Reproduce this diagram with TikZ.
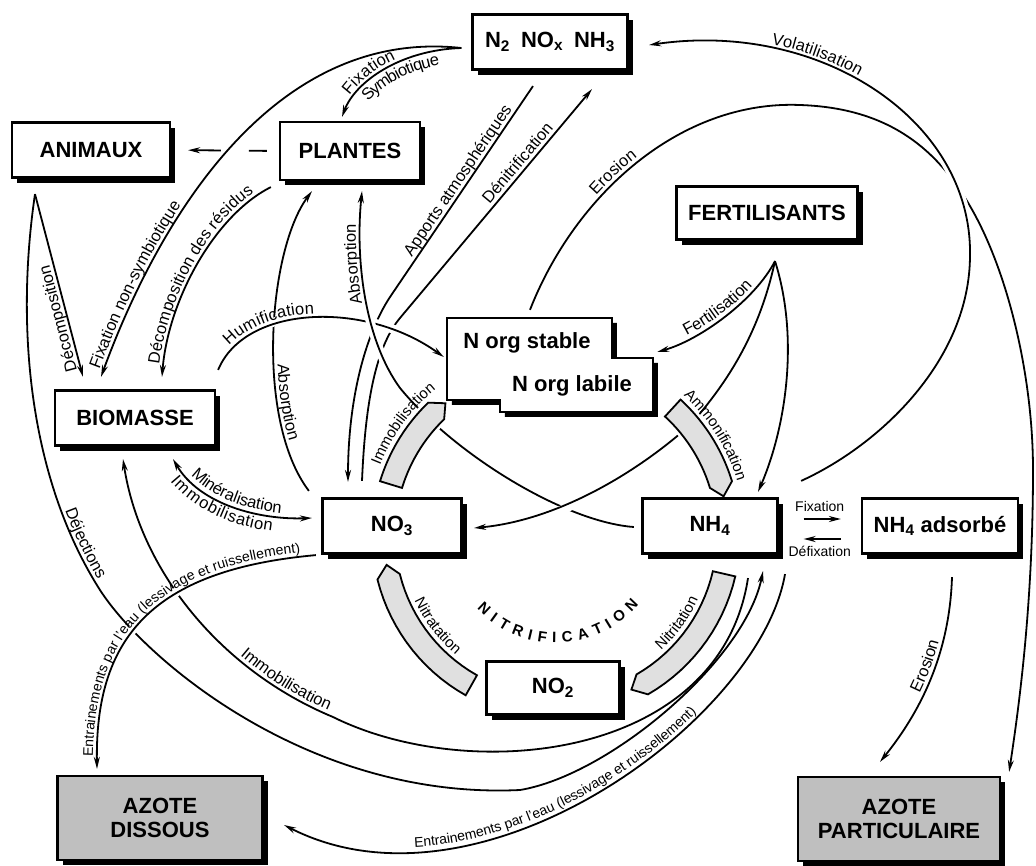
\documentclass[tikz,border=0pt]{standalone}
\usepackage{fontspec}
\setmainfont{Liberation Sans}
\usetikzlibrary{arrows.meta, shadows, decorations.text}

\pgfdeclarelayer{back}
\pgfsetlayers{back,main}

\newcommand\bxfont{\fontsize{22pt}{24pt}\selectfont\bfseries}
\newcommand\lbfont{\fontsize{16.5pt}{18pt}\selectfont}
\newcommand\bdfont{\fontsize{15pt}{17pt}\selectfont}
\newcommand\smfont{\fontsize{14pt}{16pt}\selectfont}
\newcommand\nitfont{\fontsize{15pt}{17pt}\selectfont\bfseries}

% shaded band of the cycle: #1 square end, #2 pointed end (angles)
\newcommand\band[2]{%
  \pgfmathsetmacro\tipang{(#2>#1) ? #2+4 : #2-4}%
  \draw[band] plot[domain=#1:#2, samples=16] ({556+184*cos(\x)},{535+184*sin(\x)})
    -- ({556+172*cos(\tipang)},{535+172*sin(\tipang)})
    -- plot[domain=#2:#1, samples=16] ({556+161*cos(\x)},{535+161*sin(\x)}) -- cycle;}

\begin{document}
\begin{tikzpicture}[
			x=1pt, y=-1pt,
			% GLOBAL CFG
			font=\lbfont,
			>={Stealth[length=12pt,width=6pt]},
			% Styles
			box/.style={% For the compartments
				rectangle,
				draw=black,
				line width=2.2pt,
				fill=white,
				font=\bxfont,
				minimum height=55pt,
				drop shadow={shadow xshift=5pt, shadow yshift=-5pt, fill=black, opacity=1},
			},
			sink/.style={% For the two final stocks
				box,
				fill=black!25,
				align=center,
				minimum height=84pt,
			},
			flow/.style={% For the fluxes
				line width=1.8pt,
			},
			over/.style={% Flux passing over another one
				preaction={draw=white, line width=9pt, arrows=-, shorten <=#1, shorten >=#1},
			},
			over/.default=8pt,
			band/.style={% For the transformations of the cycle
				draw=black,
				line width=1.8pt,
				fill=black!12,
				preaction={draw=white, line width=7pt},
			},
			lab/.style 2 args={% text on the left of a flux
				postaction={decorate, decoration={text along path,
					text={|\lbfont|#2}, text align={left indent=#1}, raise=4pt}},
			},
			labr/.style 2 args={% text on the right of a flux
				postaction={decorate, decoration={text along path,
					text={|\lbfont|#2}, text align={left indent=#1}, raise=-15pt}},
			},
			labs/.style 2 args={% smaller text for the water transfers
				postaction={decorate, decoration={text along path,
					text={|\smfont|#2}, text align={left indent=#1}, raise=4pt}},
			},
			labc/.style={% centred text
				postaction={decorate, decoration={text along path,
					text={|\lbfont|#1}, text align=center, raise=4pt}},
			},
			]
			\useasboundingbox (0,0) rectangle (1036,865);

			% Draw the compartments
			\node[box, minimum width=155pt] (gaz) at (550,42) {N\textsubscript{2}\enspace NO\textsubscript{x}\enspace NH\textsubscript{3}};
			\node[box, minimum width=158pt] (animaux) at (91,150) {ANIMAUX};
			\node[box, minimum width=140pt, minimum height=58pt] (plantes) at (350,151) {PLANTES};
			\node[box, minimum width=181pt, minimum height=53pt] (fert) at (767,213) {FERTILISANTS};
			\node[box, minimum width=160pt] (bio) at (135,418) {BIOMASSE};
			\node[box, minimum width=139pt] (no3) at (392,526) {NO\textsubscript{3}};
			\node[box, minimum width=135pt] (nh4) at (710,526) {NH\textsubscript{4}};
			\node[box, minimum width=156pt] (nh4a) at (940,526) {NH\textsubscript{4} adsorbé};
			\node[box, minimum width=133pt, minimum height=53pt] (no2) at (553,688) {NO\textsubscript{2}};
			\node[sink, minimum width=205pt] (diss) at (160,818) {AZOTE\\DISSOUS};
			\node[sink, minimum width=202pt] (part) at (899,819) {AZOTE\\PARTICULAIRE};

			% Organic nitrogen: two stepped boxes
			\node[minimum width=206pt, minimum height=94pt, inner sep=0pt] (norg) at (550,365) {};
			\fill[black] ([shift={(5,5)}]norg.north west) -- ++(165,0) -- ++(0,40) -- ++(41,0) -- ++(0,54) -- ++(-153,0) -- ++(0,-12) -- ++(-53,0) -- cycle;
			\draw[line width=2.2pt, fill=white] (norg.north west) -- ++(165,0) -- ++(0,40) -- ++(41,0) -- ++(0,54) -- ++(-153,0) -- ++(0,-12) -- ++(-53,0) -- cycle;
			\node[font=\bxfont] (stable) at (527,343) {N org stable};
			\node[font=\bxfont] (labile) at (572,386) {N org labile};

			\begin{pgfonlayer}{back}
			% Fixation
			\draw[flow, <-, lab={22pt}{Fixation}, labr={30pt}{Symbiotique}] ([shift={(-8,-4)}]plantes.north) .. controls (355,82) and (400,50) .. ([shift={(-10,6)}]gaz.west);
			\draw[flow, <-, lab={6pt}{Fixation non-symbiotique}] ([shift={(-34,-12.5)}]bio.north) .. controls (140,270) and (250,25) .. ([shift={(-10,6)}]gaz.west);

			% Decomposition and excretion
			\draw[flow, <-, lab={12pt}{Décomposition des résidus}] ([shift={(27,-12.5)}]bio.north) .. controls (168,300) and (215,215) .. ([shift={(-8,6)}]plantes.south west);
			\draw[flow, <-, lab={8pt}{Décomposition}] ([shift={(-52,-12.5)}]bio.north) -- ([shift={(-56,15.5)}]animaux.south);
			\draw[flow, ->, lab={322pt}{Déjections}] ([shift={(-56,15.5)}]animaux.south) .. controls (15,330) and (30,480) .. (100,590) .. controls (145,660) and (310,800) .. (520,790) .. controls (610,775) and (745,660) .. ([shift={(53,16.5)}]nh4.south);
			\draw[flow, ->, dash pattern=on 18pt off 28pt on 200pt, shorten <=12pt, shorten >=17pt] (plantes.west) -- (animaux.east);

			% Uptake, deposition, denitrification
			\draw[flow, <-, lab={180pt}{Absorption}] ([shift={(-38,10)}]plantes.south) .. controls (268,250) and (255,420) .. ([shift={(-12.5,-6.5)}]no3.north west);
			\draw[flow, <-, lab={237pt}{Apports atmosphériques}] ([shift={(-44,-15.5)}]no3.north) .. controls (348,400) and (365,335) .. (390,297) -- ([shift={(-17,15.5)}]gaz.south);
			\draw[flow, ->, lab={314pt}{Dénitrification}] ([shift={(-30,-16.5)}]no3.north) .. controls (365,410) and (374,349) .. (400,318) -- ([shift={(42,18.5)}]gaz.south);

			% Erosion
			\draw[flow, ->, lab={132pt}{Erosion}] ([shift={(-20,-8)}]norg.north) .. controls (575,195) and (680,100) .. (800,105) .. controls (890,108) and (940,150) .. (975,215) .. controls (1010,280) and (1033,380) .. (1033,470) .. controls (1033,600) and (1020,700) .. ([shift={(8,-4)}]part.north east);
			\draw[flow, <-, lab={80pt}{Erosion}] ([shift={(-19,-14)}]part.north) .. controls (930,700) and (950,640) .. ([shift={(12,22.5)}]nh4a.south);

			% Fertilisers
			\draw[flow, <-, labc={Fertilisation}] ([shift={(4,-13)}]norg.east) .. controls (700,340) and (755,300) .. ([shift={(8,20.5)}]fert.south);
			\draw[flow, ->] ([shift={(8,20.5)}]fert.south) .. controls (800,340) and (785,430) .. ([shift={(48,-5.5)}]nh4.north);

			% Biomass exchanges
			\draw[flow, <->, lab={25pt}{Minéralisation}, labr={15pt}{Immobilisation}] ([shift={(38,12.5)}]bio.south) .. controls (200,505) and (260,520) .. ([shift={(-9.5,-8)}]no3.west);
			\draw[flow, <-, lab={235pt}{Immobilisation}] ([shift={(-12,12.5)}]bio.south) .. controls (140,570) and (220,670) .. (333,717) .. controls (470,785) and (720,760) .. ([shift={(38,23.5)}]nh4.south);

			% Leaching
			\draw[flow, <-, labs={135pt}{Entrainements par l'eau (lessivage et ruissellement)}] ([shift={(20.5,7)}]diss.east) .. controls (480,925) and (760,720) .. ([shift={(75,19.5)}]nh4.south);

			% Fixation on the clay
			\draw[flow, ->, shorten <=25pt, shorten >=20pt] ([yshift=7pt]nh4.east) -- node[above=3pt, font=\smfont] {Fixation} ([yshift=7pt]nh4a.west);
			\draw[flow, ->, shorten <=20pt, shorten >=25pt] ([yshift=-13pt]nh4a.west) -- node[below=3pt, font=\smfont] {Défixation} ([yshift=-13pt]nh4.east);

			% Fluxes drawn over the others
			\draw[flow, ->, over, lab={25pt}{Humification}] ([shift={(2,-19.5)}]bio.north east) .. controls (245,305) and (365,300) .. ([shift={(-3,-8)}]norg.west);
			\draw[flow, ->, over, lab={370pt}{Absorption}] ([shift={(-7.5,1)}]nh4.west) .. controls (565,522) and (455,455) .. (400,388) .. controls (365,340) and (355,260) .. ([shift={(12,10)}]plantes.south);
			\draw[flow, ->, over=40pt] ([shift={(8,20.5)}]fert.south) .. controls (760,330) and (730,380) .. (690,425) .. controls (640,470) and (560,520) .. ([shift={(11.5,2)}]no3.east);
			\draw[flow, <-, over, lab={122pt}{Volatilisation}] ([shift={(20.5,3)}]gaz.east) .. controls (820,20) and (972,120) .. (970,255) .. controls (970,360) and (880,445) .. ([shift={(22.5,-16.5)}]nh4.north east);
			\draw[flow, <-, over, labs={12pt}{Entrainements par l'eau (lessivage et ruissellement)}] ([shift={(-63,-6)}]diss.north) .. controls (95,640) and (150,570) .. ([shift={(-5.5,0.5)}]no3.south west);

			% Transformations of the cycle
			\band{197}{226}
			\band{312.6}{343}
			\band{119.4}{166}
			\band{13}{60}
			\path[decorate, decoration={text along path, text={|\bdfont|Immobilisation}, text align=center}] plot[domain=194:238, samples=40] ({556+189*cos(\x)},{535+189*sin(\x)});
			\path[decorate, decoration={text along path, text={|\bdfont|Ammonification}, text align=center}] plot[domain=306:350, samples=40] ({556+189*cos(\x)},{535+189*sin(\x)});
			\path[decorate, decoration={text along path, text={|\bdfont|Nitratation}, text align=center}] plot[domain=172:113, samples=40] ({556+156*cos(\x)},{535+156*sin(\x)});
			\path[decorate, decoration={text along path, text={|\bdfont|Nitritation}, text align=center}] plot[domain=62:10, samples=40] ({556+156*cos(\x)},{535+156*sin(\x)});
			\path[decorate, decoration={text along path, text={|\nitfont|N I T R I F I C A T I O N}, text align={fit to path stretching spaces}}] plot[domain=137:40, samples=40] ({556+108*cos(\x)},{535+108*sin(\x)});
			\end{pgfonlayer}

		\end{tikzpicture}
\end{document}
